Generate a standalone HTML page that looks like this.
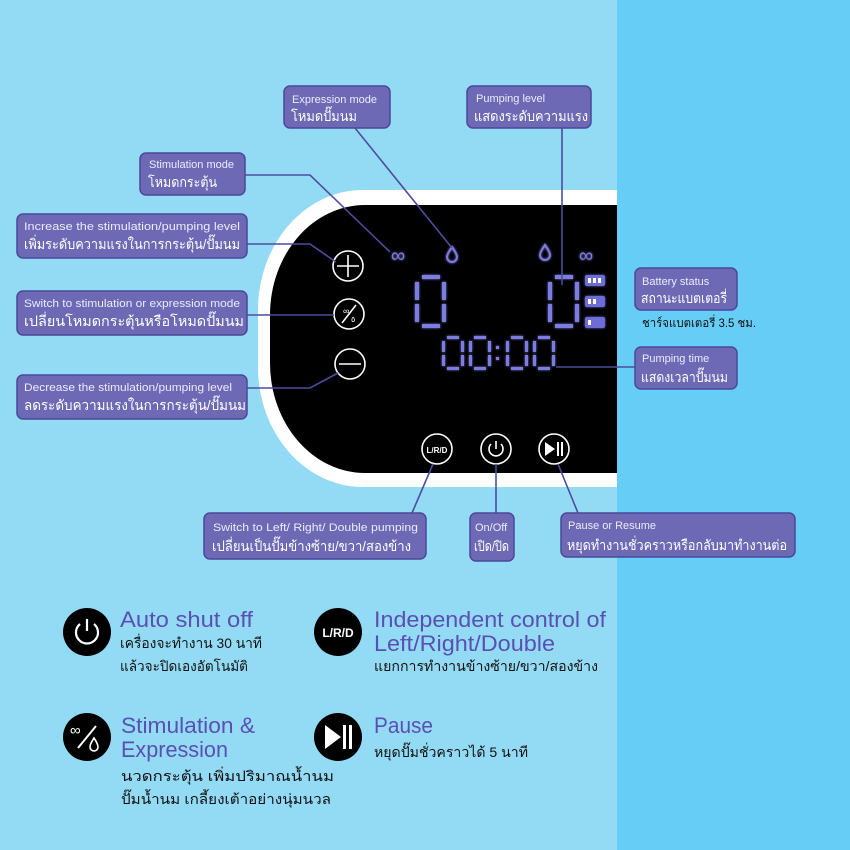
<!DOCTYPE html>
<html><head><meta charset="utf-8"><style>
body{margin:0;width:850px;height:850px;overflow:hidden;background:#93dbf5}
svg{display:block}
text{font-family:"Liberation Sans","DejaVu Sans",sans-serif}
.bx{fill:#6d69b5;stroke:#4b4898;stroke-width:1.5}
.en{fill:#ecebff;font-size:11px}
.th{fill:#ffffff;font-size:14px}
.ln{stroke:#4f4c9c;stroke-width:1.6;fill:none}
.sg{fill:#7d7be0}
.ti{fill:#5a4fb4;font-size:22px}
.bt{fill:#111;font-size:14px}
</style></head><body>
<svg width="850" height="850" viewBox="0 0 850 850">
<defs><filter id="gl"><feGaussianBlur stdDeviation="1.2" result="b"/><feMerge><feMergeNode in="b"/><feMergeNode in="SourceGraphic"/></feMerge></filter></defs>
<rect width="850" height="850" fill="#93dbf5"/>
<rect x="258" y="190" width="520" height="297" rx="105" ry="120" fill="#fff"/>
<rect x="270" y="205" width="510" height="268" rx="95" ry="110" fill="#000"/>
<rect x="617" y="0" width="233" height="850" fill="#66cdf6"/>
<g stroke="#fff" stroke-width="1.6" fill="none">
<circle cx="348" cy="266" r="15"/><path d="M337 266h22M348 255v22"/>
<circle cx="349" cy="314" r="15"/><path d="M342 323l14-18"/>
<circle cx="350" cy="364" r="15"/><path d="M339 364h22"/>
<circle cx="437" cy="449" r="15"/>
<circle cx="496" cy="449" r="15"/><path d="M491 444a7 7 0 1 0 10 0M496 441v8"/>
<circle cx="554" cy="449" r="15"/>
</g>
<text x="437" y="453" font-size="8" fill="#fff" text-anchor="middle" font-weight="bold">L/R/D</text>
<path d="M545 442v14l10-7z" fill="#fff"/><rect x="557" y="442" width="2" height="14" fill="#fff"/><rect x="561" y="442" width="2" height="14" fill="#fff"/>
<text x="343" y="314" font-size="9" fill="#fff">∞</text><text x="351" y="322" font-size="8" fill="#fff">٥</text>
<g filter="url(#gl)">
<text x="398" y="262" font-size="20" fill="#7d7be0" text-anchor="middle">∞</text>
<text x="586" y="262" font-size="20" fill="#7d7be0" text-anchor="middle">∞</text>
<path d="M452 247q-5 7-5 10a5 5 0 0 0 10 0q0-3-5-10z" fill="none" stroke="#7d7be0" stroke-width="2"/>
<path d="M545 245q-5 7-5 10a5 5 0 0 0 10 0q0-3-5-10z" fill="none" stroke="#7d7be0" stroke-width="2"/>
<rect class="sg" x="422" y="275" width="18" height="4"/><rect class="sg" x="422" y="324" width="18" height="4"/>
<rect class="sg" x="415" y="282" width="4" height="18"/><rect class="sg" x="415" y="304" width="4" height="18"/>
<rect class="sg" x="442" y="282" width="4" height="18"/><rect class="sg" x="442" y="304" width="4" height="18"/>
<rect class="sg" x="555" y="275" width="18" height="4"/><rect class="sg" x="555" y="324" width="18" height="4"/>
<rect class="sg" x="548" y="282" width="4" height="18"/><rect class="sg" x="548" y="304" width="4" height="18"/>
<rect class="sg" x="575" y="282" width="4" height="18"/><rect class="sg" x="575" y="304" width="4" height="18"/>
<g class="sg">
<rect x="447" y="336" width="12" height="3"/><rect x="447" y="367" width="12" height="3"/><rect x="442" y="341" width="3" height="11"/><rect x="442" y="355" width="3" height="11"/><rect x="461" y="341" width="3" height="11"/><rect x="461" y="355" width="3" height="11"/>
<rect x="474" y="336" width="12" height="3"/><rect x="474" y="367" width="12" height="3"/><rect x="469" y="341" width="3" height="11"/><rect x="469" y="355" width="3" height="11"/><rect x="488" y="341" width="3" height="11"/><rect x="488" y="355" width="3" height="11"/>
<rect x="496" y="346" width="3" height="3"/><rect x="496" y="357" width="3" height="3"/>
<rect x="511" y="336" width="12" height="3"/><rect x="511" y="367" width="12" height="3"/><rect x="506" y="341" width="3" height="11"/><rect x="506" y="355" width="3" height="11"/><rect x="525" y="341" width="3" height="11"/><rect x="525" y="355" width="3" height="11"/>
<rect x="538" y="336" width="12" height="3"/><rect x="538" y="367" width="12" height="3"/><rect x="533" y="341" width="3" height="11"/><rect x="533" y="355" width="3" height="11"/><rect x="552" y="341" width="3" height="11"/><rect x="552" y="355" width="3" height="11"/>
</g>
<g fill="#6e6cd6"><rect x="585" y="275" width="20" height="11" rx="2"/><rect x="585" y="296" width="20" height="11" rx="2"/><rect x="585" y="317" width="20" height="11" rx="2"/></g>
</g>
<g fill="#fff"><rect x="588" y="278" width="3" height="5"/><rect x="593" y="278" width="3" height="5"/><rect x="598" y="278" width="3" height="5"/><rect x="588" y="299" width="3" height="5"/><rect x="593" y="299" width="3" height="5"/><rect x="588" y="320" width="3" height="5"/></g>
<path class="ln" d="M245 175H310L390 252"/>
<path class="ln" d="M355 128L452 248"/>
<path class="ln" d="M562 127V285"/>
<path class="ln" d="M247 244H310L336 262"/>
<path class="ln" d="M247 315H334"/>
<path class="ln" d="M247 388H310L338 373"/>
<path class="ln" d="M556 367H635"/>
<path class="ln" d="M433 464L412 513"/>
<path class="ln" d="M496 464V513"/>
<path class="ln" d="M558 464L578 513"/>
<rect class="bx" x="284" y="86" width="106" height="42" rx="6"/><text class="en" x="292" y="103">Expression mode</text><text class="th" x="291" y="121" textLength="66" lengthAdjust="spacingAndGlyphs">โหมดปั๊มนม</text>
<rect class="bx" x="467" y="86" width="124" height="42" rx="6"/><text class="en" x="476" y="102">Pumping level</text><text class="th" x="474" y="121" textLength="114" lengthAdjust="spacingAndGlyphs">แสดงระดับความแรง</text>
<rect class="bx" x="140" y="153" width="105" height="42" rx="6"/><text class="en" x="149" y="168">Stimulation mode</text><text class="th" x="148" y="187" textLength="69" lengthAdjust="spacingAndGlyphs">โหมดกระตุ้น</text>
<rect class="bx" x="17" y="214" width="230" height="44" rx="6"/><text class="en" x="24" y="230" textLength="216" lengthAdjust="spacingAndGlyphs">Increase the stimulation/pumping level</text><text class="th" x="24" y="249" textLength="216" lengthAdjust="spacingAndGlyphs">เพิ่มระดับความแรงในการกระตุ้น/ปั๊มนม</text>
<rect class="bx" x="17" y="291" width="230" height="44" rx="6"/><text class="en" x="24" y="307" textLength="216" lengthAdjust="spacingAndGlyphs">Switch to stimulation or expression mode</text><text class="th" x="24" y="326" textLength="220" lengthAdjust="spacingAndGlyphs">เปลี่ยนโหมดกระตุ้นหรือโหมดปั๊มนม</text>
<rect class="bx" x="17" y="375" width="230" height="44" rx="6"/><text class="en" x="24" y="391" textLength="208" lengthAdjust="spacingAndGlyphs">Decrease the stimulation/pumping level</text><text class="th" x="24" y="410" textLength="222" lengthAdjust="spacingAndGlyphs">ลดระดับความแรงในการกระตุ้น/ปั๊มนม</text>
<rect class="bx" x="635" y="268" width="102" height="42" rx="6"/><text class="en" x="642" y="285">Battery status</text><text class="th" x="641" y="303" textLength="86" lengthAdjust="spacingAndGlyphs">สถานะแบตเตอรี่</text>
<text x="642" y="327" font-size="12" fill="#111" textLength="114" lengthAdjust="spacingAndGlyphs">ชาร์จแบตเตอรี่ 3.5 ชม.</text>
<rect class="bx" x="635" y="347" width="102" height="42" rx="6"/><text class="en" x="642" y="362">Pumping time</text><text class="th" x="641" y="382" textLength="87" lengthAdjust="spacingAndGlyphs">แสดงเวลาปั๊มนม</text>
<rect class="bx" x="204" y="513" width="222" height="46" rx="6"/><text class="en" x="213" y="531" textLength="205" lengthAdjust="spacingAndGlyphs">Switch to Left/ Right/ Double pumping</text><text class="th" x="212" y="551" textLength="199" lengthAdjust="spacingAndGlyphs">เปลี่ยนเป็นปั๊มข้างซ้าย/ขวา/สองข้าง</text>
<rect class="bx" x="470" y="513" width="44" height="48" rx="6"/><text class="en" x="475" y="531">On/Off</text><text class="th" x="474" y="551" textLength="35" lengthAdjust="spacingAndGlyphs">เปิด/ปิด</text>
<rect class="bx" x="561" y="513" width="234" height="44" rx="6"/><text class="en" x="568" y="529">Pause or Resume</text><text class="th" x="567" y="550" textLength="220" lengthAdjust="spacingAndGlyphs">หยุดทำงานชั่วคราวหรือกลับมาทำงานต่อ</text>
<circle cx="87" cy="632" r="24" fill="#000"/><path d="M80 624a11 11 0 1 0 14 0M87 619v12" stroke="#fff" stroke-width="2.2" fill="none"/>
<circle cx="338" cy="632" r="24" fill="#000"/><text x="338" y="637" font-size="12" font-weight="bold" fill="#fff" text-anchor="middle">L/R/D</text>
<circle cx="87" cy="737" r="24" fill="#000"/><path d="M78 748l18-22" stroke="#fff" stroke-width="2"/><text x="70" y="735" font-size="15" fill="#fff">∞</text><path d="M94 738q-4 6-4 9a4 4 0 0 0 8 0q0-3-4-9z" stroke="#fff" stroke-width="1.6" fill="none"/>
<circle cx="338" cy="737" r="24" fill="#000"/><path d="M325 725v24l16-12z" fill="#fff"/><rect x="343" y="725" width="3" height="24" fill="#fff"/><rect x="349" y="725" width="3" height="24" fill="#fff"/>
<text class="ti" x="120" y="627" textLength="133" lengthAdjust="spacingAndGlyphs">Auto shut off</text>
<text class="bt" x="120" y="648" textLength="142" lengthAdjust="spacingAndGlyphs">เครื่องจะทำงาน 30 นาที</text>
<text class="bt" x="120" y="671" textLength="128" lengthAdjust="spacingAndGlyphs">แล้วจะปิดเองอัตโนมัติ</text>
<text class="ti" x="374" y="627" textLength="232" lengthAdjust="spacingAndGlyphs">Independent control of</text>
<text class="ti" x="374" y="651" textLength="181" lengthAdjust="spacingAndGlyphs">Left/Right/Double</text>
<text class="bt" x="374" y="671" textLength="224" lengthAdjust="spacingAndGlyphs">แยกการทำงานข้างซ้าย/ขวา/สองข้าง</text>
<text class="ti" x="121" y="733" textLength="134" lengthAdjust="spacingAndGlyphs">Stimulation &amp;</text>
<text class="ti" x="121" y="757" textLength="107" lengthAdjust="spacingAndGlyphs">Expression</text>
<text class="bt" x="121" y="781" textLength="213" lengthAdjust="spacingAndGlyphs">นวดกระตุ้น เพิ่มปริมาณน้ำนม</text>
<text class="bt" x="121" y="804" textLength="210" lengthAdjust="spacingAndGlyphs">ปั๊มน้ำนม เกลี้ยงเต้าอย่างนุ่มนวล</text>
<text class="ti" x="374" y="733" textLength="59" lengthAdjust="spacingAndGlyphs">Pause</text>
<text class="bt" x="374" y="757" textLength="154" lengthAdjust="spacingAndGlyphs">หยุดปั๊มชั่วคราวได้ 5 นาที</text>
</svg>
</body></html>
